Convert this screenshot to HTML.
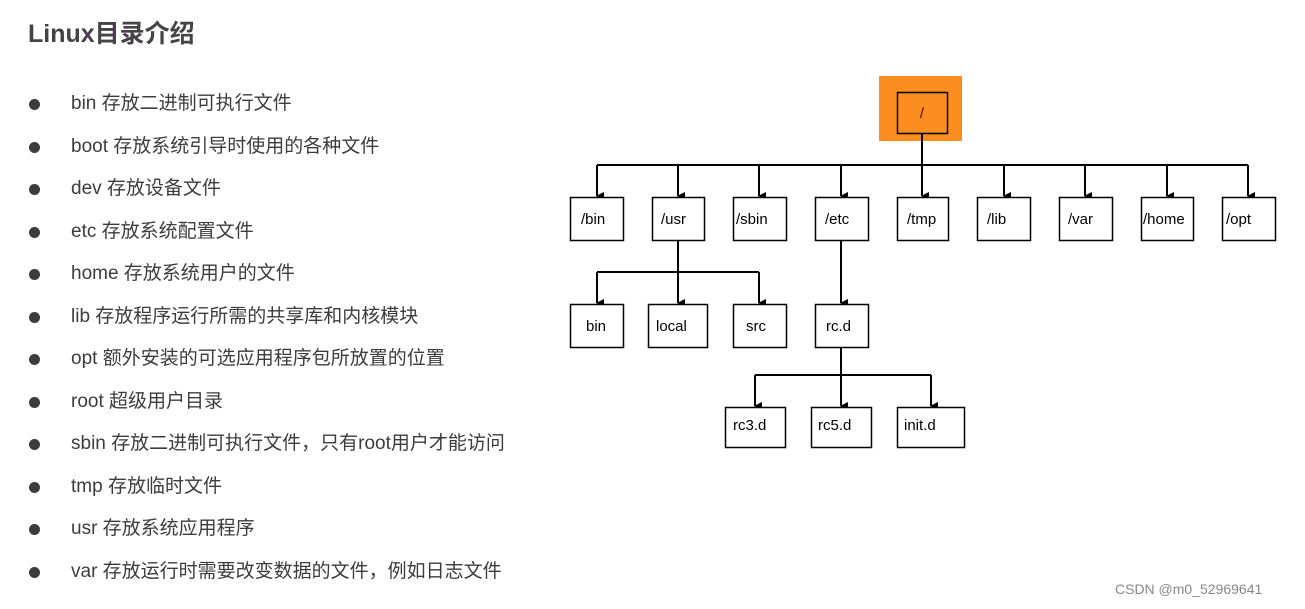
<!DOCTYPE html>
<html><head><meta charset="utf-8"><style>
body{margin:0;width:1305px;height:609px;background:#fff;position:relative;overflow:hidden;font-family:"Liberation Sans","Noto Sans CJK SC",sans-serif;}
h1{position:absolute;left:28px;top:14px;margin:0;font-size:25px;font-weight:bold;color:#474247;}
.li{position:absolute;left:71px;font-size:19px;color:#3c3c3c;white-space:nowrap;line-height:24px;}
.dot{position:absolute;left:29px;width:11px;height:11px;border-radius:50%;background:#3c3c3c;}
.wm{position:absolute;left:1115px;top:581px;font-size:14px;color:#888;}
</style></head><body>
<h1>Linux目录介绍</h1>
<div class="dot" style="top:99px"></div><div class="li" style="top:92px">bin 存放二进制可执行文件</div>
<div class="dot" style="top:142px"></div><div class="li" style="top:135px">boot 存放系统引导时使用的各种文件</div>
<div class="dot" style="top:184px"></div><div class="li" style="top:177px">dev 存放设备文件</div>
<div class="dot" style="top:227px"></div><div class="li" style="top:220px">etc 存放系统配置文件</div>
<div class="dot" style="top:269px"></div><div class="li" style="top:262px">home 存放系统用户的文件</div>
<div class="dot" style="top:312px"></div><div class="li" style="top:305px">lib 存放程序运行所需的共享库和内核模块</div>
<div class="dot" style="top:354px"></div><div class="li" style="top:347px">opt 额外安装的可选应用程序包所放置的位置</div>
<div class="dot" style="top:397px"></div><div class="li" style="top:390px">root 超级用户目录</div>
<div class="dot" style="top:439px"></div><div class="li" style="top:432px">sbin 存放二进制可执行文件，只有root用户才能访问</div>
<div class="dot" style="top:482px"></div><div class="li" style="top:475px">tmp 存放临时文件</div>
<div class="dot" style="top:524px"></div><div class="li" style="top:517px">usr 存放系统应用程序</div>
<div class="dot" style="top:567px"></div><div class="li" style="top:560px">var 存放运行时需要改变数据的文件，例如日志文件</div>
<div class="wm">CSDN @m0_52969641</div>
<svg width="1305" height="609" style="position:absolute;left:0;top:0" font-family="Liberation Sans, sans-serif" font-size="15">
<defs><marker id="a" markerWidth="8" markerHeight="8" refX="4" refY="7" orient="auto" markerUnits="userSpaceOnUse"><path d="M0,0 L8,0 L4,8 z" fill="#000"/></marker></defs>
<rect x="879" y="76" width="83" height="65" fill="#fb8e1e"/>
<rect x="897.5" y="92.5" width="50" height="41" fill="none" stroke="#000" stroke-width="1.5"/>
<text x="922" y="118" text-anchor="middle" fill="#600">/</text>
<g stroke="#000" stroke-width="2" fill="none">
<line x1="922" y1="133" x2="922" y2="196" marker-end="url(#a)"/>
<line x1="597" y1="165" x2="1248" y2="165"/>
<line x1="597" y1="165" x2="597" y2="196" marker-end="url(#a)"/>
<line x1="678" y1="165" x2="678" y2="196" marker-end="url(#a)"/>
<line x1="759" y1="165" x2="759" y2="196" marker-end="url(#a)"/>
<line x1="841" y1="165" x2="841" y2="196" marker-end="url(#a)"/>
<line x1="1004" y1="165" x2="1004" y2="196" marker-end="url(#a)"/>
<line x1="1085" y1="165" x2="1085" y2="196" marker-end="url(#a)"/>
<line x1="1167" y1="165" x2="1167" y2="196" marker-end="url(#a)"/>
<line x1="1248" y1="165" x2="1248" y2="196" marker-end="url(#a)"/>
<line x1="678" y1="240" x2="678" y2="303" marker-end="url(#a)"/>
<line x1="597" y1="272" x2="759" y2="272"/>
<line x1="597" y1="272" x2="597" y2="303" marker-end="url(#a)"/>
<line x1="759" y1="272" x2="759" y2="303" marker-end="url(#a)"/>
<line x1="841" y1="240" x2="841" y2="303" marker-end="url(#a)"/>
<line x1="841" y1="347" x2="841" y2="406" marker-end="url(#a)"/>
<line x1="755" y1="375" x2="931" y2="375"/>
<line x1="755" y1="375" x2="755" y2="406" marker-end="url(#a)"/>
<line x1="931" y1="375" x2="931" y2="406" marker-end="url(#a)"/>
</g>
<g stroke="#000" stroke-width="1.5" fill="#fff">
<rect x="570.5" y="197.5" width="53" height="43"/><rect x="652.5" y="197.5" width="52" height="43"/>
<rect x="733.5" y="197.5" width="53" height="43"/><rect x="815.5" y="197.5" width="53" height="43"/>
<rect x="897.5" y="197.5" width="51" height="43"/><rect x="977.5" y="197.5" width="53" height="43"/>
<rect x="1059.5" y="197.5" width="53" height="43"/><rect x="1141.5" y="197.5" width="52" height="43"/>
<rect x="1222.5" y="197.5" width="53" height="43"/>
<rect x="570.5" y="304.5" width="53" height="43"/><rect x="648.5" y="304.5" width="59" height="43"/>
<rect x="733.5" y="304.5" width="53" height="43"/><rect x="815.5" y="304.5" width="53" height="43"/>
<rect x="725.5" y="407.5" width="60" height="40"/><rect x="811.5" y="407.5" width="60" height="40"/>
<rect x="897.5" y="407.5" width="67" height="40"/>
</g>
<g fill="#000">
<text x="581" y="224">/bin</text><text x="661" y="224">/usr</text><text x="736" y="224">/sbin</text>
<text x="825" y="224">/etc</text><text x="907" y="224">/tmp</text><text x="987" y="224">/lib</text>
<text x="1068" y="224">/var</text><text x="1143" y="224">/home</text><text x="1226" y="224">/opt</text>
<text x="586" y="331">bin</text><text x="656" y="331">local</text><text x="746" y="331">src</text><text x="826" y="331">rc.d</text>
<text x="733" y="430">rc3.d</text><text x="818" y="430">rc5.d</text><text x="904" y="430">init.d</text>
</g>
</svg>
</body></html>
